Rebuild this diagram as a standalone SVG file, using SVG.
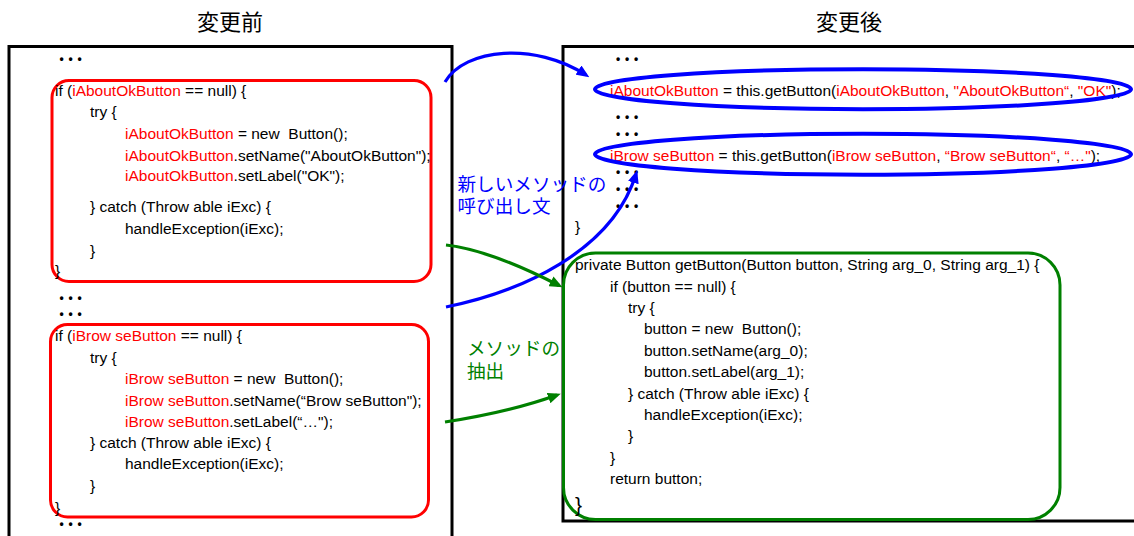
<svg xmlns="http://www.w3.org/2000/svg" width="1134" height="536" viewBox="0 0 1134 536">
  <style>
    .code { font-family: "Liberation Sans", Arial, sans-serif; font-size: 15.5px; fill: #000; }
    .r { fill: #ff0000; }
    .dots { font-family: "Liberation Sans", Arial, sans-serif; font-weight: bold; font-size: 12px; letter-spacing: 4.8px; fill: #000; }
    .title { font-family: "Noto Sans CJK JP", sans-serif; font-size: 22px; fill: #000; text-anchor: middle; }
    .jp { font-family: "Noto Sans CJK JP", sans-serif; font-size: 18.6px; }
    .panel { fill: #fff; stroke: #000; stroke-width: 3; }
    .orig { fill: none; stroke: #ff0000; stroke-width: 3; }
    .call { fill: none; stroke: #0000ff; stroke-width: 4; }
    .method { fill: none; stroke: #008000; stroke-width: 3; }
    .blue { fill: none; stroke: #0000ff; stroke-width: 3.2; marker-end: url(#headBlue); }
    .green { fill: none; stroke: #008000; stroke-width: 3.2; marker-end: url(#headGreen); }
  </style>
  <defs>
    <marker id="headBlue" viewBox="0 0 13 11" refX="9" refY="5.5" markerWidth="13" markerHeight="11" markerUnits="userSpaceOnUse" orient="auto">
      <path d="M0,0 L13,5.5 L0,11 z" fill="#0000ff"/>
    </marker>
    <marker id="headGreen" viewBox="0 0 13 11" refX="9" refY="5.5" markerWidth="13" markerHeight="11" markerUnits="userSpaceOnUse" orient="auto">
      <path d="M0,0 L13,5.5 L0,11 z" fill="#008000"/>
    </marker>
  </defs>

  <rect width="1134" height="536" fill="#fff"/>

  <!-- headings -->
  <text class="title" x="230" y="30">変更前</text>
  <text class="title" x="849" y="30">変更後</text>

  <!-- left panel: original code -->
  <g id="before">
    <rect class="panel" x="9" y="46.5" width="443" height="520"/>
    <text class="dots" x="59.4" y="63.3">•••</text>
    <text class="dots" x="59.4" y="302.3">•••</text>
    <text class="dots" x="59.4" y="318.3">•••</text>
    <text class="dots" x="59.4" y="528.3">•••</text>
  </g>

  <g id="block-about">
    <rect class="orig" x="52" y="80.5" width="379" height="201" rx="17"/>
    <text class="code" xml:space="preserve" x="55" y="96">if (<tspan class="r">iAboutOkButton</tspan> == null) {</text>
    <text class="code" xml:space="preserve" x="90" y="117">try {</text>
    <text class="code" xml:space="preserve" x="125" y="139"><tspan class="r">iAboutOkButton</tspan> = new  Button();</text>
    <text class="code" xml:space="preserve" x="125" y="160.5"><tspan class="r">iAboutOkButton</tspan>.setName("AboutOkButton");</text>
    <text class="code" xml:space="preserve" x="125" y="181"><tspan class="r">iAboutOkButton</tspan>.setLabel("OK");</text>
    <text class="code" xml:space="preserve" x="90" y="212">} catch (Throw able iExc) {</text>
    <text class="code" xml:space="preserve" x="125" y="234">handleException(iExc);</text>
    <text class="code" xml:space="preserve" x="90" y="255.5">}</text>
    <text class="code" xml:space="preserve" x="55" y="275.5">}</text>
  </g>

  <g id="block-browse">
    <rect class="orig" x="50.5" y="324.5" width="378" height="192.5" rx="17"/>
    <text class="code" xml:space="preserve" x="55" y="341">if (<tspan class="r">iBrow seButton</tspan> == null) {</text>
    <text class="code" xml:space="preserve" x="90" y="362.5">try {</text>
    <text class="code" xml:space="preserve" x="125" y="384"><tspan class="r">iBrow seButton</tspan> = new  Button();</text>
    <text class="code" xml:space="preserve" x="125" y="405.5"><tspan class="r">iBrow seButton</tspan>.setName(“Brow seButton");</text>
    <text class="code" xml:space="preserve" x="125" y="427"><tspan class="r">iBrow seButton</tspan>.setLabel(“…");</text>
    <text class="code" xml:space="preserve" x="90" y="448">} catch (Throw able iExc) {</text>
    <text class="code" xml:space="preserve" x="125" y="469">handleException(iExc);</text>
    <text class="code" xml:space="preserve" x="90" y="491">}</text>
    <text class="code" xml:space="preserve" x="55" y="513">}</text>
  </g>

  <!-- right panel: refactored code -->
  <g id="after">
    <rect class="panel" x="563" y="46.5" width="600" height="474.5"/>
    <text class="dots" x="616" y="63.3">•••</text>
    <text class="dots" x="616" y="121.3">•••</text>
    <text class="dots" x="616" y="138.3">•••</text>
    <text class="dots" x="616" y="176.3">•••</text>
    <text class="dots" x="616" y="193.3">•••</text>
    <text class="dots" x="616" y="210.3">•••</text>
    <text class="code" x="575" y="232">}</text>
  </g>

  <g id="call-about">
    <text class="code" xml:space="preserve" x="610" y="95.5"><tspan class="r">iAboutOkButton</tspan> = this.getButton(<tspan class="r">iAboutOkButton</tspan>, <tspan class="r">"AboutOkButton“</tspan>, <tspan class="r">"OK"</tspan>);</text>
    <ellipse class="call" cx="863" cy="89.2" rx="268" ry="20"/>
  </g>

  <g id="call-browse">
    <text class="code" xml:space="preserve" x="610" y="160.5"><tspan class="r">iBrow seButton</tspan> = this.getButton(<tspan class="r">iBrow seButton</tspan>, <tspan class="r">“Brow seButton“</tspan>, <tspan class="r">“…"</tspan>);</text>
    <ellipse class="call" cx="863" cy="154.2" rx="268" ry="20.5"/>
  </g>

  <g id="method">
    <rect class="method" x="563.5" y="253" width="496.5" height="266.5" rx="32"/>
    <text class="code" xml:space="preserve" x="575" y="270">private Button getButton(Button button, String arg_0, String arg_1) {</text>
    <text class="code" xml:space="preserve" x="610" y="291.5">if (button == null) {</text>
    <text class="code" xml:space="preserve" x="628" y="313">try {</text>
    <text class="code" xml:space="preserve" x="644" y="334">button = new  Button();</text>
    <text class="code" xml:space="preserve" x="644" y="355.5">button.setName(arg_0);</text>
    <text class="code" xml:space="preserve" x="644" y="377">button.setLabel(arg_1);</text>
    <text class="code" xml:space="preserve" x="628" y="398.5">} catch (Throw able iExc) {</text>
    <text class="code" xml:space="preserve" x="644" y="420">handleException(iExc);</text>
    <text class="code" xml:space="preserve" x="628" y="441">}</text>
    <text class="code" xml:space="preserve" x="610" y="462.5">}</text>
    <text class="code" xml:space="preserve" x="610" y="484">return button;</text>
    <text class="code" x="575" y="512" style="font-size:21px">}</text>
  </g>

  <!-- connector labels, two lines each -->
  <g id="label-call">
    <text class="jp" fill="#0000ff" x="457.5" y="191">新しいメソッドの<tspan x="457.5" dy="22">呼び出し文</tspan></text>
  </g>
  <g id="label-extract">
    <text class="jp" fill="#008000" x="467" y="355">メソッドの<tspan x="467" dy="23">抽出</tspan></text>
  </g>

  <!-- connectors -->
  <g id="connectors">
    <path class="blue" d="M445,82 C465,48 535,42 586,75"/>
    <path class="blue" d="M446,307 C520,292 612,252 636,174"/>
    <path class="green" d="M446,245 Q490,250 559,285.5"/>
    <path class="green" d="M445,422 Q510,412 557,395"/>
  </g>
</svg>
